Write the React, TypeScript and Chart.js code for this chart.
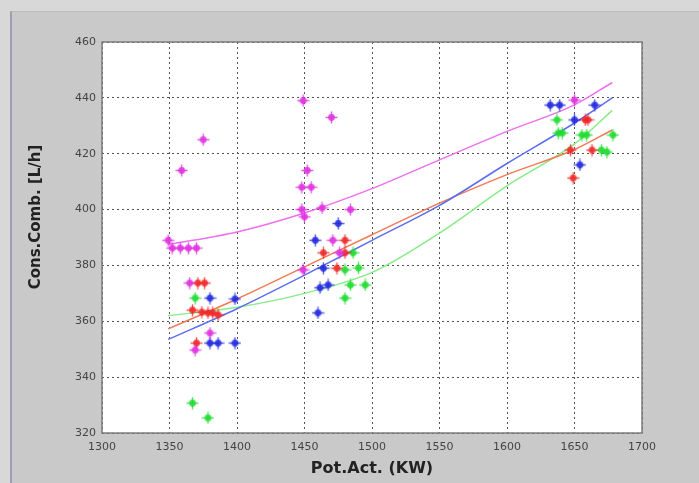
import React, { useEffect, useRef } from "react";
import { Chart, registerables } from "chart.js";

Chart.register(...registerables);

// Tick settings
const X_MIN = 1300;
const X_MAX = 1700;
const X_STEP = 50;
const Y_MIN = 320;
const Y_MAX = 460;
const Y_STEP = 20;

const X_TITLE = "Pot.Act. (KW)";
const Y_TITLE = "Cons.Comb. [L/h]";

// Magenta series
const magentaX = [1349, 1352, 1358, 1364, 1370, 1359, 1375, 1449, 1452, 1448, 1455, 1448, 1450, 1463, 1470, 1484, 1449, 1471, 1476, 1650, 1369, 1380, 1365];
const magentaY = [389, 386.2, 386.2, 386.2, 386.2, 414, 425, 439, 414, 408, 408, 400, 397.4, 400.6, 433, 400, 378.4, 389, 384.5, 439.2, 349.7, 355.8, 373.7];

// Blue series
const blueX = [1380, 1398.5, 1380, 1386, 1398.5, 1475, 1458, 1464, 1467.5, 1460, 1461.5, 1632, 1639, 1665, 1650, 1654];
const blueY = [368.3, 368, 352.2, 352.2, 352.2, 395, 389, 379, 373, 363, 372, 437.4, 437.4, 437.4, 432.1, 416];

// Red series
const redX = [1371, 1376, 1367, 1374, 1378.5, 1382, 1386, 1370, 1480, 1464, 1480, 1474, 1658, 1660, 1647, 1663, 1649];
const redY = [373.7, 373.7, 364, 363.3, 363, 363, 362.3, 352.2, 389, 384.5, 384.5, 379, 432.1, 432.1, 421.3, 421.3, 411.3];

// Green series
const greenX = [1369, 1367, 1378.5, 1486, 1480, 1490, 1484, 1495, 1480, 1637, 1638, 1641, 1655.5, 1659, 1678.5, 1670, 1674];
const greenY = [368.3, 330.7, 325.4, 384.5, 378.4, 379.1, 373, 373, 368.3, 432.1, 427.4, 427.4, 426.7, 426.7, 426.7, 421.3, 420.6];

// Fitted curves
const fitX = [1349, 1400, 1450, 1500, 1550, 1600, 1650, 1678];
const magentaFit = [387.5, 392, 398.8, 407.5, 417.8, 428, 437.5, 445.5];
const blueFit = [353.5, 364.5, 376.5, 389, 401.5, 416.5, 431, 440];
const redFit = [357.3, 368, 379.5, 391, 402.3, 412.5, 421.5, 428.5];
const greenFit = [362, 365, 370, 377.5, 391.6, 408.5, 423.5, 435.5];

const zip = (xs: number[], ys: number[]) => xs.map((x, i) => ({ x, y: ys[i] }));

function makeMarker(color: string): HTMLCanvasElement {
  const c = document.createElement("canvas");
  c.width = 13;
  c.height = 13;
  const g = c.getContext("2d")!;
  g.globalAlpha = 0.8;
  g.strokeStyle = color;
  g.lineWidth = 1.4;
  g.beginPath();
  g.moveTo(6.5, 0.5);
  g.lineTo(6.5, 12.5);
  g.moveTo(0.5, 6.5);
  g.lineTo(12.5, 6.5);
  g.stroke();
  g.globalAlpha = 0.85;
  g.fillStyle = color;
  g.beginPath();
  g.arc(6.5, 6.5, 3.4, 0, Math.PI * 2);
  g.fill();
  return c;
}

const framePlugin = {
  id: "frame",
  beforeDraw(chart: any) {
    const { ctx, chartArea: a } = chart;
    ctx.save();
    ctx.fillStyle = "#ffffff";
    ctx.fillRect(a.left, a.top, a.right - a.left, a.bottom - a.top);
    ctx.restore();
  },
  afterDraw(chart: any) {
    const { ctx, chartArea: a } = chart;
    ctx.save();
    ctx.strokeStyle = "#7c7c7c";
    ctx.lineWidth = 1.5;
    ctx.strokeRect(a.left, a.top, a.right - a.left, a.bottom - a.top);
    // y axis title, placed as in the reference (slightly above the axis centre)
    ctx.translate(36, 217);
    ctx.rotate(-Math.PI / 2);
    ctx.textAlign = "center";
    ctx.textBaseline = "middle";
    ctx.fillStyle = "#222";
    ctx.font = "bold 15px 'DejaVu Sans'";
    ctx.fillText(Y_TITLE, 0, 0);
    ctx.restore();
  },
};

export default function App() {
  const ref = useRef<HTMLCanvasElement | null>(null);

  useEffect(() => {
    if (!ref.current) return;
    const pointSet = (label: string, xs: number[], ys: number[], color: string) => ({
      type: "scatter" as const,
      label,
      data: zip(xs, ys),
      pointStyle: makeMarker(color),
      pointRadius: 6,
      showLine: false,
      order: 1,
    });
    const lineSet = (label: string, ys: number[], color: string) => ({
      type: "line" as const,
      label,
      data: zip(fitX, ys),
      borderColor: color,
      borderWidth: 1.5,
      pointRadius: 0,
      showLine: true,
      fill: false,
      cubicInterpolationMode: "monotone" as const,
      order: 2,
    });

    const chart = new Chart(ref.current, {
      type: "scatter",
      data: {
        datasets: [
          lineSet("magenta fit", magentaFit, "#ee70ee"),
          lineSet("blue fit", blueFit, "#5c6ef0"),
          lineSet("red fit", redFit, "#f27a55"),
          lineSet("green fit", greenFit, "#88ec88"),
          pointSet("magenta", magentaX, magentaY, "#e030e0"),
          pointSet("blue", blueX, blueY, "#2028e0"),
          pointSet("red", redX, redY, "#f02828"),
          pointSet("green", greenX, greenY, "#20dc30"),
        ] as any,
      },
      options: {
        animation: false,
        responsive: false,
        layout: { padding: { left: 0, right: 57, top: 42, bottom: 2 } },
        plugins: {
          legend: { display: false },
          tooltip: { enabled: false },
        },
        scales: {
          x: {
            type: "linear",
            min: X_MIN,
            max: X_MAX,
            afterFit: (s: any) => {
              s.height = 48;
            },
            ticks: {
              stepSize: X_STEP,
              padding: 8,
              color: "#444",
              font: { family: "DejaVu Sans", size: 11 },
              callback: (v: any) => String(v),
            },
            grid: {
              color: "#555",
              lineWidth: 1,
              drawTicks: false,
            },
            border: { display: false, dash: [2, 3] },
            title: {
              display: true,
              text: X_TITLE,
              color: "#222",
              font: { family: "DejaVu Sans", size: 16, weight: "bold" },
              padding: { top: 0, bottom: 3 },
            },
          },
          y: {
            type: "linear",
            min: Y_MIN,
            max: Y_MAX,
            afterFit: (s: any) => {
              s.width = 102;
            },
            ticks: {
              stepSize: Y_STEP,
              padding: 6,
              color: "#444",
              font: { family: "DejaVu Sans", size: 11 },
            },
            grid: {
              color: "#555",
              lineWidth: 1,
              drawTicks: false,
            },
            border: { display: false, dash: [2, 3] },
            title: { display: false },
          },
        },
      },
      plugins: [framePlugin],
    });
    return () => chart.destroy();
  }, []);

  return (
    <div style={{ position: "fixed", left: 0, top: 0, width: 699, height: 483, background: "#d8d8d8", overflow: "hidden" }}>
      <div
        style={{
          position: "absolute",
          left: 10,
          top: 11,
          right: 0,
          bottom: 0,
          background: "#c9c9c9",
          borderLeft: "2px solid #9e9eb0",
          borderTop: "1px solid #bcbcbc",
        }}
      />
      <canvas ref={ref} width={699} height={483} style={{ position: "absolute", left: 0, top: 0 }} />
    </div>
  );
}
